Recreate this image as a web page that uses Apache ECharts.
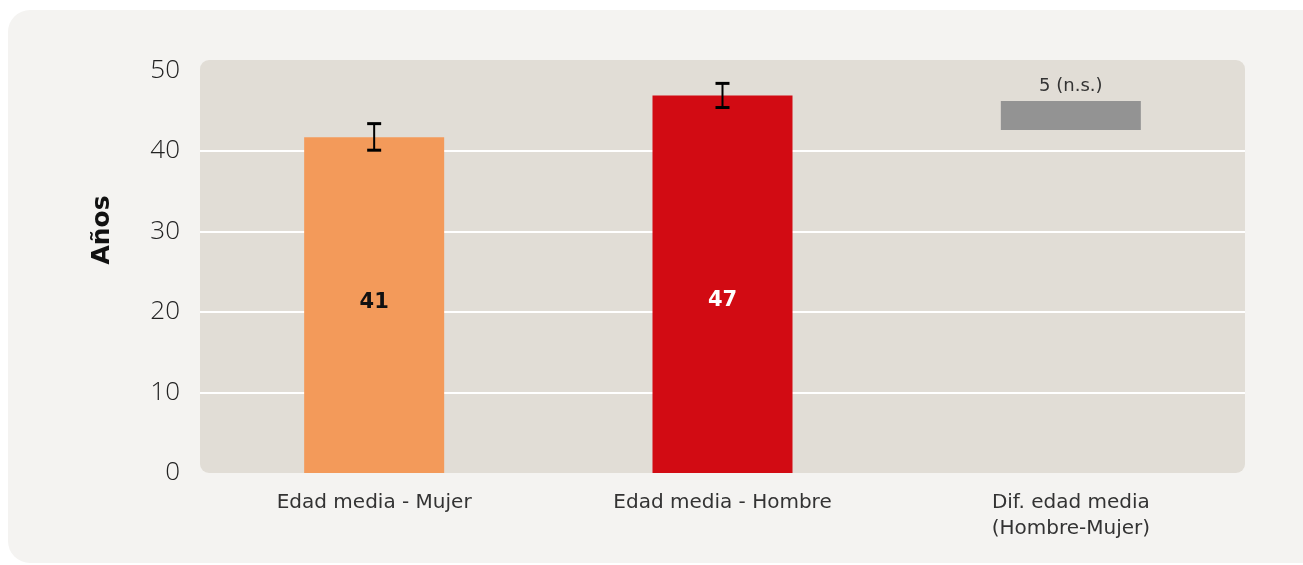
<!DOCTYPE html>
<html lang="es">
<head>
<meta charset="UTF-8">
<title>Edad media</title>
<style>
  html, body { margin: 0; padding: 0; background: #ffffff; }
  #main { width: 1303px; height: 565px; }
</style>
</head>
<body>
<div id="main"></div>
<script src="https://cdn.jsdelivr.net/npm/echarts@6/dist/echarts.min.js"></script>
<script>
// datos
var categories = ['Edad media - Mujer', 'Edad media - Hombre', 'Dif. edad media\n(Hombre-Mujer)'];
var mujer = [41.7, '-', '-'];
var hombre = ['-', 46.9, '-'];
var difBase = ['-', '-', 42.6];
var difValor = ['-', '-', 3.6];
var barLabels = ['41', '47', '5 (n.s.)'];
var errLow = [40.1, 45.4];
var errHigh = [43.4, 48.4];
var yTicks = [0, 10, 20, 30, 40, 50];

var FONT = '"Open Sans", sans-serif';
var FONT_WIDE = '"DejaVu Sans", sans-serif';

var errData = errLow.map(function (lo, i) { return [i, lo, errHigh[i]]; });

var myChart = echarts.init(document.getElementById('main'));

var option = {
    animation: false,
    textStyle: { fontFamily: FONT },
    graphic: [
        { type: 'rect', z: -10, silent: true,
          shape: { x: 8, y: 10, width: 1330, height: 553, r: 22 },
          style: { fill: '#f4f3f1' } },
        { type: 'rect', z: -9, silent: true,
          shape: { x: 200, y: 60, width: 1045, height: 413, r: 9 },
          style: { fill: '#e1ddd6' } },
        { type: 'text', z: 5, silent: true,
          x: 102, y: 230, rotation: Math.PI / 2,
          style: { text: 'Años', fontFamily: FONT_WIDE, fontSize: 25, fontWeight: 'bold',
                   fill: '#111', align: 'center', verticalAlign: 'middle' } }
    ],
    grid: { left: 200, right: 58, top: 70.5, bottom: 92 },
    xAxis: {
        type: 'category',
        data: categories,
        axisLine: { show: false },
        axisTick: { show: false },
        axisLabel: { color: '#333', fontSize: 20, margin: 17, lineHeight: 26, fontFamily: FONT_WIDE }
    },
    yAxis: {
        type: 'value',
        min: yTicks[0],
        max: yTicks[yTicks.length - 1],
        interval: 10,
        axisLine: { show: false },
        axisTick: { show: false },
        axisLabel: { color: '#222', fontSize: 26, fontWeight: 300, margin: 20, fontFamily: FONT },
        splitLine: { show: true, showMinLine: false, showMaxLine: false,
                     lineStyle: { color: '#ffffff', width: 2 } }
    },
    series: [
        {
            name: 'Mujer', type: 'bar', stack: 'a', barWidth: 140,
            data: mujer,
            itemStyle: { color: '#f39a5a' },
            label: { show: true, position: 'insideBottom', distance: 160,
                     formatter: function () { return barLabels[0]; },
                     color: '#111', fontSize: 21, fontWeight: 'bold', fontFamily: FONT_WIDE }
        },
        {
            name: 'Hombre', type: 'bar', stack: 'a', barWidth: 140,
            data: hombre,
            itemStyle: { color: '#d20b13' },
            label: { show: true, position: 'insideBottom', distance: 162,
                     formatter: function () { return barLabels[1]; },
                     color: '#fff', fontSize: 21, fontWeight: 'bold', fontFamily: FONT_WIDE }
        },
        {
            name: 'base', type: 'bar', stack: 'a', barWidth: 140,
            data: difBase, silent: true,
            itemStyle: { color: 'transparent' }
        },
        {
            name: 'Diferencia', type: 'bar', stack: 'a', barWidth: 140,
            data: difValor,
            itemStyle: { color: '#939393' },
            label: { show: true, position: 'top', distance: 6,
                     formatter: function () { return barLabels[2]; },
                     color: '#333', fontSize: 18, fontFamily: FONT_WIDE }
        },
        {
            name: 'error', type: 'custom', z: 10,
            data: errData,
            encode: { x: 0, y: [1, 2] },
            renderItem: function (params, api) {
                var lo = api.coord([api.value(0), api.value(1)]);
                var hi = api.coord([api.value(0), api.value(2)]);
                var hw = 7;
                var st = { stroke: '#000', lineWidth: 3 };
                return {
                    type: 'group',
                    children: [
                        { type: 'line', shape: { x1: hi[0], y1: hi[1], x2: lo[0], y2: lo[1] },
                          style: { stroke: '#000', lineWidth: 2 } },
                        { type: 'line', shape: { x1: hi[0] - hw, y1: hi[1], x2: hi[0] + hw, y2: hi[1] }, style: st },
                        { type: 'line', shape: { x1: lo[0] - hw, y1: lo[1], x2: lo[0] + hw, y2: lo[1] }, style: st }
                    ]
                };
            }
        }
    ]
};

myChart.setOption(option);
</script>
</body>
</html>
